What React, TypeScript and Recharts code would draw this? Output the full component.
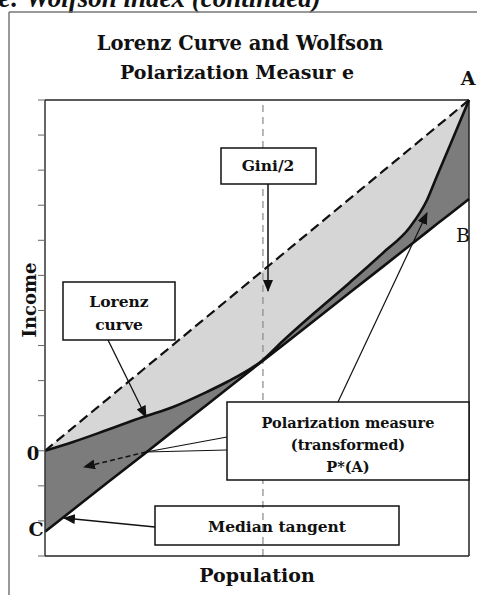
import React from "react";
import {
  Area,
  ComposedChart,
  Line,
  ReferenceLine,
  XAxis,
  YAxis,
} from "recharts";

// population share (x) and the three curves (income units, 0 = O, 10 = A)
const popShare = [0, 0.066, 0.146, 0.231, 0.302, 0.382, 0.429, 0.514, 0.561, 0.642, 0.719, 0.797, 0.861, 0.901, 0.925, 0.955, 1];
const lorenzIncome = [0, 0.25, 0.59, 0.96, 1.25, 1.68, 1.96, 2.59, 3.13, 4.0, 4.8, 5.64, 6.38, 7.15, 7.85, 8.7, 10];
const tangentIncome = [-2.31, -1.68, -0.92, -0.12, 0.56, 1.31, 1.76, 2.57, 3.01, 3.78, 4.51, 5.25, 5.86, 6.24, 6.47, 6.75, 7.18];
const equalityIncome = [0, 0.66, 1.46, 2.31, 3.02, 3.82, 4.29, 5.14, 5.61, 6.42, 7.19, 7.97, 8.61, 9.01, 9.25, 9.55, 10];
const incomeTicks = [-3, -2, -1, 0, 1, 2, 3, 4, 5, 6, 7, 8, 9, 10];
const medianShare = 0.514;

const W = 477;
const H = 595;
const SERIF = "'DejaVu Serif', 'Liberation Serif', serif";

const data = popShare.map((x, i) => ({
  x,
  lorenz: lorenzIncome[i],
  tangent: tangentIncome[i],
  equality: equalityIncome[i],
}));

function Overlay() {
  const bold = { fontFamily: SERIF, fontWeight: 700, fill: "#111" } as const;
  return (
    <svg
      width={W}
      height={H}
      style={{ position: "absolute", left: 0, top: 0, pointerEvents: "none" }}
    >
      <defs>
        <marker
          id="head"
          markerUnits="userSpaceOnUse"
          markerWidth={12}
          markerHeight={10}
          refX={11}
          refY={5}
          orient="auto"
        >
          <path d="M0,0 L12,5 L0,10 z" fill="#111" />
        </marker>
      </defs>

      {/* page frame + cut caption */}
      <text x={-66} y={7} fontFamily="'Liberation Serif', serif" fontStyle="italic" fontWeight={700} fontSize={27} fill="#111">
        Figure: Wolfson index (continued)
      </text>
      <line x1={9} y1={12} x2={W} y2={12} stroke="#777" strokeWidth={1.5} />
      <line x1={9} y1={12} x2={9} y2={H} stroke="#777" strokeWidth={1.5} />

      {/* title */}
      <text x={240} y={50} textAnchor="middle" fontSize={19.5} {...bold}>
        Lorenz Curve and Wolfson
      </text>
      <text x={237} y={79} textAnchor="middle" fontSize={19} {...bold}>
        Polarization Measur e
      </text>

      {/* point labels */}
      <text x={468} y={85} textAnchor="middle" fontSize={19} {...bold}>A</text>
      <text x={463} y={242} textAnchor="middle" fontSize={19} fontFamily={SERIF} fill="#111">B</text>
      <text x={33} y={460} textAnchor="middle" fontSize={18} {...bold}>0</text>
      <text x={36} y={536} textAnchor="middle" fontSize={19} {...bold}>C</text>

      {/* axis titles */}
      <text x={257} y={582} textAnchor="middle" fontSize={19} {...bold}>Population</text>
      <text transform="translate(36,300) rotate(-90)" textAnchor="middle" fontSize={18} {...bold}>Income</text>

      {/* Gini/2 */}
      <rect x={221} y={148} width={95} height={36} fill="#fff" stroke="#111" strokeWidth={1.5} />
      <text x={268} y={171} textAnchor="middle" fontSize={15.5} {...bold}>Gini/2</text>
      <line x1={268} y1={184} x2={268} y2={291} stroke="#111" strokeWidth={1.5} markerEnd="url(#head)" />

      {/* Lorenz curve */}
      <rect x={63} y={282} width={112} height={58} fill="#fff" stroke="#111" strokeWidth={1.5} />
      <text x={119} y={307} textAnchor="middle" fontSize={15.5} {...bold}>Lorenz</text>
      <text x={119} y={330} textAnchor="middle" fontSize={15.5} {...bold}>curve</text>
      <line x1={108} y1={340} x2={146} y2={417} stroke="#111" strokeWidth={1.3} markerEnd="url(#head)" />

      {/* Polarization measure */}
      <rect x={227} y={402} width={242} height={78} fill="#fff" stroke="#111" strokeWidth={1.5} />
      <text x={348} y={428} textAnchor="middle" fontSize={14.5} {...bold}>Polarization measure</text>
      <text x={348} y={450} textAnchor="middle" fontSize={14.5} {...bold}>(transformed)</text>
      <text x={348} y={472} textAnchor="middle" fontSize={14.5} {...bold}>P*(A)</text>
      <line x1={338} y1={402} x2={427} y2={213} stroke="#111" strokeWidth={1.2} markerEnd="url(#head)" />
      <line x1={227} y1={437} x2={146} y2={452} stroke="#111" strokeWidth={1.2} />
      <line x1={227} y1={450} x2={146} y2={452} stroke="#111" strokeWidth={1.2} />
      <line x1={146} y1={452} x2={84} y2={467} stroke="#111" strokeWidth={1.5} strokeDasharray="5 3" markerEnd="url(#head)" />

      {/* Median tangent */}
      <rect x={155} y={506} width={244} height={39} fill="none" stroke="#111" strokeWidth={1.5} />
      <text x={277} y={532} textAnchor="middle" fontSize={15.5} {...bold}>Median tangent</text>
      <line x1={155} y1={527} x2={64} y2={518} stroke="#111" strokeWidth={1.3} markerEnd="url(#head)" />
    </svg>
  );
}

export default function App() {
  return (
    <div
      style={{
        position: "absolute",
        left: 0,
        top: 0,
        width: W,
        height: H,
        overflow: "hidden",
        background: "#fff",
      }}
    >
      <ComposedChart
        width={W}
        height={H}
        data={data}
        margin={{ top: 100, right: 8, bottom: 38, left: 38 }}
      >
        <XAxis
          type="number"
          dataKey="x"
          domain={[0, 1]}
          height={1}
          tick={false}
          tickLine={false}
          axisLine={{ stroke: "#222", strokeWidth: 1.5 }}
        />
        <YAxis
          type="number"
          domain={[-3, 10]}
          ticks={incomeTicks}
          width={7}
          tickSize={7}
          tickFormatter={() => ""}
          tickLine={{ stroke: "#666", strokeWidth: 1 }}
          axisLine={{ stroke: "#333", strokeWidth: 1.5 }}
        />
        <Area
          dataKey={(d: any) => [d.lorenz, d.equality]}
          type="monotone"
          stroke="none"
          fill="#d6d6d6"
          fillOpacity={1}
          isAnimationActive={false}
        />
        <Area
          dataKey={(d: any) => [d.tangent, d.lorenz]}
          type="monotone"
          stroke="none"
          fill="#7c7c7c"
          fillOpacity={1}
          isAnimationActive={false}
        />
        <ReferenceLine x={medianShare} stroke="#888" strokeWidth={1.2} strokeDasharray="7 5" />
        <ReferenceLine y={10} stroke="#222" strokeWidth={1.5} />
        <ReferenceLine x={1} stroke="#222" strokeWidth={1.5} />
        <Line
          dataKey="equality"
          type="linear"
          stroke="#111"
          strokeWidth={2.2}
          strokeDasharray="10 5"
          dot={false}
          isAnimationActive={false}
        />
        <Line
          dataKey="tangent"
          type="linear"
          stroke="#111"
          strokeWidth={2.6}
          dot={false}
          isAnimationActive={false}
        />
        <Line
          dataKey="lorenz"
          type="monotone"
          stroke="#111"
          strokeWidth={2.6}
          dot={false}
          isAnimationActive={false}
        />
      </ComposedChart>
      <Overlay />
    </div>
  );
}
